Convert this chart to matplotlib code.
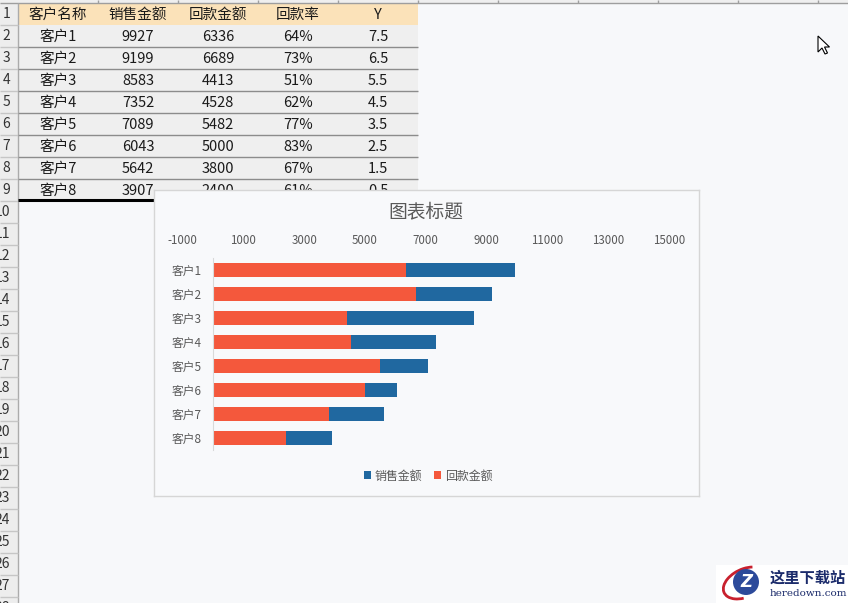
import matplotlib
matplotlib.use("Agg")
import matplotlib.pyplot as plt
from matplotlib.patches import Rectangle, Circle, Arc, Polygon

plt.rcParams['font.family'] = ['Noto Sans CJK SC', 'DejaVu Sans']
plt.rcParams['axes.unicode_minus'] = False

# 表格数据 table data
headers = ["客户名称", "销售金额", "回款金额", "回款率", "Y"]
customers = ["客户1", "客户2", "客户3", "客户4", "客户5", "客户6", "客户7", "客户8"]
sales = [9927, 9199, 8583, 7352, 7089, 6043, 5642, 3907]
returns = [6336, 6689, 4413, 4528, 5482, 5000, 3800, 2400]
rates = ["64%", "73%", "51%", "62%", "77%", "83%", "67%", "61%"]
y_pos = [7.5, 6.5, 5.5, 4.5, 3.5, 2.5, 1.5, 0.5]
xticks = [-1000, 1000, 3000, 5000, 7000, 9000, 11000, 13000, 15000]

W, H = 848, 603
BLUE = "#2068A0"
RED = "#F4583C"
GRAY = "#595959"


def px(x0, y0, x1, y1):
    # pixel box (top-left origin) -> figure fraction
    return [x0 / W, 1 - y1 / H, (x1 - x0) / W, (y1 - y0) / H]


fig = plt.figure(figsize=(8.48, 6.03), dpi=100)
fig.patch.set_facecolor("#F7F8FA")

# 工作表背景 sheet layer, pixel coords
sheet = fig.add_axes([0, 0, 1, 1])
sheet.set_xlim(0, W)
sheet.set_ylim(H, 0)
sheet.axis("off")

# column header strip
sheet.add_patch(Rectangle((0, 0), W, 3, fc="#EFEFEF", ec="none"))
sheet.hlines(3, 0, W, color="#9E9E9E", lw=1)
sheet.vlines(range(98, W, 80), 0, 3, color="#9E9E9E", lw=1)

# row header column (numbers partly hidden at the left edge, as in the screenshot)
row_h = 22
top = 3
sheet.add_patch(Rectangle((0, top), 18, H, fc="#EDEDED", ec="none"))
sheet.vlines(18, top, H, color="#ABABAB", lw=1)
for r in range(1, 29):
    sheet.hlines(top + r * row_h, 0, 18, color="#C6C6C6", lw=1)
    sheet.text(10, top + (r - 0.5) * row_h, str(r), ha="right", va="center",
               fontsize=10, color="#333333")

# table
col_x = [58, 138, 218, 298, 378]
sheet.add_patch(Rectangle((18, top), 400, row_h, fc="#FBE2B9", ec="none"))
sheet.add_patch(Rectangle((18, top + row_h), 400, 8 * row_h, fc="#EFEFEF", ec="none"))
for i in range(2, 9):
    sheet.hlines(top + i * row_h, 18, 418, color="#8C8C8C", lw=1)
sheet.hlines(top + 9 * row_h - 1, 18, 418, color="black", lw=2.2)
for x, h in zip(col_x, headers):
    sheet.text(x, top + 0.55 * row_h, h, ha="center", va="center", fontsize=10.5, color="#1A1A1A")
for i in range(len(customers)):
    yc = top + (i + 1.55) * row_h
    row = [customers[i], str(sales[i]), str(returns[i]), rates[i], str(y_pos[i])]
    for x, v in zip(col_x, row):
        sheet.text(x, yc, v, ha="center", va="center", fontsize=10.5, color="#1A1A1A")

# cursor
sheet.add_patch(Polygon([(818, 36), (818, 52), (822, 48), (825, 54), (827.5, 53),
                         (824.5, 47), (829.5, 47)], closed=True, fc="white", ec="black", lw=0.8))

# watermark
sheet.add_patch(Rectangle((716, 565), 132, 38, fc="white", ec="none"))
sheet.add_patch(Arc((745, 583), 46, 28, angle=-25, theta1=120, theta2=320, color="#C8202E", lw=2))
sheet.add_patch(Circle((746, 582), 13, fc="#2C4A9A", ec="none"))
sheet.text(746, 582, "Z", ha="center", va="center", fontsize=12, fontweight="bold",
           style="italic", color="white", family="DejaVu Sans")
sheet.text(808, 578, "这里下载站", ha="center", va="center", fontsize=11, fontweight="bold",
           color="#1B2B6B")
sheet.text(808, 593, "heredown.com", ha="center", va="center", fontsize=7.5,
           family="DejaVu Serif", color="#1B2B6B")

# 图表区 chart area box
box = fig.add_axes(px(153.5, 190.5, 698.5, 495.5))
box.set_zorder(1)
box.set_facecolor("#F8F9FB")
box.set_xticks([])
box.set_yticks([])
for s in box.spines.values():
    s.set_color("#D6D6D6")
    s.set_linewidth(1)

# 绘图区 plot area
ax = fig.add_axes(px(182.7, 258, 668.7, 450))
ax.set_zorder(2)
ax.patch.set_alpha(0)
ax.barh(y_pos, sales, height=0.58, color=BLUE, label="销售金额")
ax.barh(y_pos, returns, height=0.58, color=RED, label="回款金额")
ax.set_xlim(-1000, 15000)
ax.set_ylim(0, 8)

ax.xaxis.tick_top()
ax.set_xticks(xticks, [str(v) for v in xticks])
ax.tick_params(axis="x", length=0, pad=8, labelsize=8.3, labelcolor=GRAY)
ax.set_yticks(y_pos, customers)
ax.tick_params(axis="y", length=0, pad=8.5, labelsize=8.5, labelcolor=GRAY)

for side in ["top", "right", "bottom"]:
    ax.spines[side].set_visible(False)
ax.spines["left"].set_position(("data", 0))
ax.spines["left"].set_color("#D9D9D9")

ax.legend(loc="center", bbox_to_anchor=(428 / W, 1 - 476 / H), bbox_transform=fig.transFigure,
          ncol=2, frameon=False, fontsize=8.6, labelcolor=GRAY, handlelength=0.6,
          handleheight=0.6, handletextpad=0.3, columnspacing=1.0)

fig.text(426 / W, 1 - 212 / H, "图表标题", ha="center", va="center", fontsize=13.5, color=GRAY)

fig.savefig("out.png", dpi=100, facecolor=fig.get_facecolor())
